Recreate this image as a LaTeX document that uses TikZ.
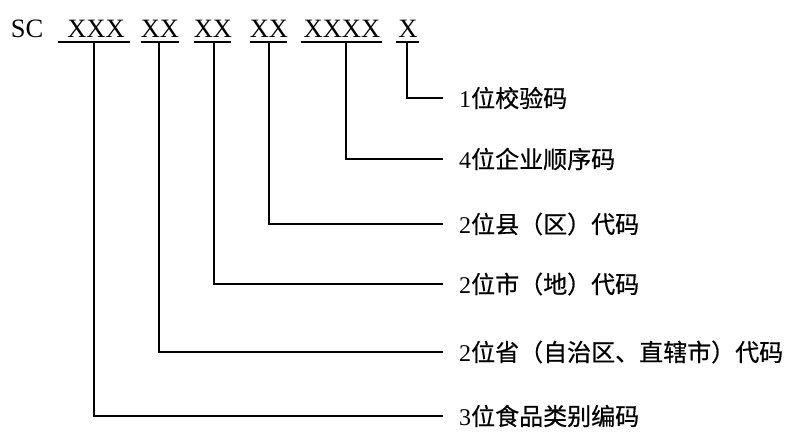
\documentclass[tikz,border=0pt]{standalone}
\usepackage{fontspec}
\setmainfont{Liberation Serif}
\newfontfamily\cjk[FakeBold=0.6]{Noto Sans CJK SC}
\newcommand{\lblt}[2]{#1{\cjk #2}}
\begin{document}
\begin{tikzpicture}[x=1pt,y=-1pt,
  grp/.style={inner sep=0pt, anchor=base, font=\fontsize{26.5}{28}\selectfont},
  lbl/.style={inner sep=0pt, anchor=west, font=\fontsize{24}{26}\selectfont},
  conn/.style={line width=2pt, line cap=butt}]
\useasboundingbox (0,0) rectangle (805,445);
% code groups
\node[grp] (sc) at (27,37) {SC};
\node[grp] (g1) at (96,37) {XXX};
\node[grp] (g2) at (160,37) {XX};
\node[grp] (g3) at (213,37) {XX};
\node[grp] (g4) at (269,37) {XX};
\node[grp] (g5) at (342,37) {XXXX};
\node[grp] (g6) at (408,37) {X};
% underline ends
\coordinate (a1) at (58,42);  \coordinate (b1) at (130,42);
\coordinate (a2) at (141,42); \coordinate (b2) at (179,42);
\coordinate (a3) at (194,42); \coordinate (b3) at (231,42);
\coordinate (a4) at (250,42); \coordinate (b4) at (287,42);
\coordinate (a5) at (301,42); \coordinate (b5) at (382,42);
\coordinate (a6) at (396,42); \coordinate (b6) at (419,42);
\foreach \i in {1,...,6} {\draw[conn] (a\i) -- (b\i);}
% stems
\coordinate (v1) at (94,42);
\coordinate (v2) at (159,42);
\coordinate (v3) at (214,42);
\coordinate (v4) at (269,42);
\coordinate (v5) at (346,42);
\coordinate (v6) at (407,42);
% labels
\node[lbl] (l6) at (459,98)  {\lblt{1}{位校验码}};
\node[lbl] (l5) at (459,159) {\lblt{4}{位企业顺序码}};
\node[lbl] (l4) at (459,224) {\lblt{2}{位县（区）代码}};
\node[lbl] (l3) at (459,284) {\lblt{2}{位市（地）代码}};
\node[lbl] (l2) at (459,352) {\lblt{2}{位省（自治区、直辖市）代码}};
\node[lbl] (l1) at (459,416) {\lblt{3}{位食品类别编码}};
\foreach \i in {1,...,6} {\draw[conn] (v\i) |- ([xshift=-16pt]l\i.west);}
\end{tikzpicture}
\end{document}
